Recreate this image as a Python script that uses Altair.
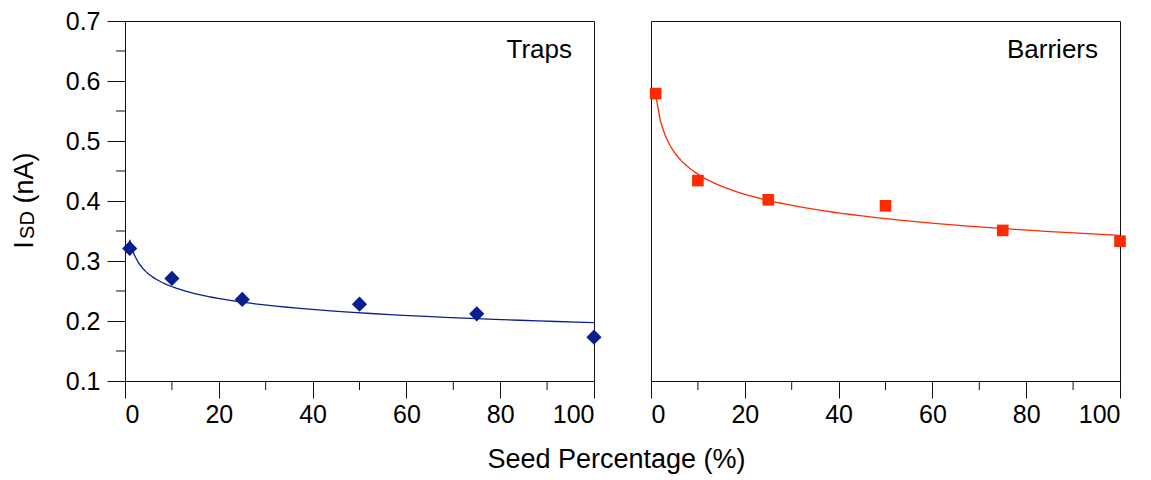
import altair as alt
import pandas as pd

# ---- data ----
seed_pct = [1, 10, 25, 50, 75, 100]
traps_isd = [0.321, 0.271, 0.236, 0.228, 0.212, 0.173]
barriers_isd = [0.579, 0.434, 0.402, 0.392, 0.351, 0.333]
x_major = [0, 20, 40, 60, 80, 100]
x_minor = [10, 30, 50, 70, 90]
y_major = [0.1, 0.2, 0.3, 0.4, 0.5, 0.6, 0.7]
y_minor = [0.15, 0.25, 0.35, 0.45, 0.55, 0.65]

FONT = "Liberation Sans"
W, H = 469, 360
NAVY = "#0a1e8c"
RED = "#ff2a00"
INK = "#111111"

xs = alt.Scale(domain=[0, 100], nice=False, zero=False)
ys = alt.Scale(domain=[0.1, 0.7], nice=False, zero=False)


def panel(values, color, shape, size, label, left):
    df = pd.DataFrame({"x": seed_pct, "y": values})
    if left:
        xaxis = alt.Axis(values=x_major, tickSize=17, labelPadding=4, grid=False,
                         labelFont=FONT, labelFontSize=25, labelColor="black",
                         tickColor=INK, domainColor=INK,
                         title="Seed Percentage (%)", titleFont=FONT, titleFontSize=27,
                         titleFontWeight="normal", titleColor="black",
                         titleX=491, titleY=86, titleAlign="center",
                         titleBaseline="alphabetic")
        yaxis = alt.Axis(values=y_major, tickSize=18, labelPadding=7, grid=False,
                         labelFont=FONT, labelFontSize=25, labelColor="black",
                         tickColor=INK, domainColor=INK, format=".1f", title=None)
    else:
        xaxis = alt.Axis(values=x_major, tickSize=17, labelPadding=4, grid=False,
                         labelFont=FONT, labelFontSize=25, labelColor="black",
                         tickColor=INK, domainColor=INK, title=None)
        yaxis = None

    base = alt.Chart(df)
    line = base.mark_line(color=color, strokeWidth=1.3).transform_regression(
        "x", "y", method="pow", extent=[1, 100]
    ).encode(
        x=alt.X("x:Q", scale=xs, axis=xaxis),
        y=alt.Y("y:Q", scale=ys, axis=yaxis),
    )
    pts = base.mark_point(shape=shape, filled=True, size=size, opacity=1, color=color).encode(
        x=alt.X("x:Q", scale=xs, axis=xaxis),
        y=alt.Y("y:Q", scale=ys, axis=yaxis),
    )
    xmin = alt.Chart(pd.DataFrame({"x": x_minor})).mark_rule(color=INK, strokeWidth=1).encode(
        x=alt.X("x:Q", scale=xs, axis=xaxis),
        y=alt.value(H), y2=alt.value(H + 9),
    )
    lab = alt.Chart(pd.DataFrame({"t": [label]})).mark_text(
        font=FONT, fontSize=26, align="right", baseline="alphabetic", color="black"
    ).encode(x=alt.value(W - 22), y=alt.value(37), text="t:N")
    layers = [line, pts, xmin, lab]
    if left:
        ymin = alt.Chart(pd.DataFrame({"y": y_minor})).mark_rule(color=INK, strokeWidth=1).encode(
            y=alt.Y("y:Q", scale=ys, axis=yaxis),
            x=alt.value(-9), x2=alt.value(0),
        )
        t1 = alt.Chart(pd.DataFrame({"t": ["I"]})).mark_text(
            font=FONT, fontSize=27, angle=270, align="center", baseline="alphabetic", color="black"
        ).encode(x=alt.value(-92), y=alt.value(224), text="t:N")
        t2 = alt.Chart(pd.DataFrame({"t": ["SD"]})).mark_text(
            font=FONT, fontSize=20, angle=270, align="center", baseline="alphabetic", color="black"
        ).encode(x=alt.value(-91), y=alt.value(204), text="t:N")
        t3 = alt.Chart(pd.DataFrame({"t": ["(nA)"]})).mark_text(
            font=FONT, fontSize=27, angle=270, align="center", baseline="alphabetic", color="black"
        ).encode(x=alt.value(-92), y=alt.value(157), text="t:N")
        layers += [ymin, t1, t2, t3]
    return alt.layer(*layers).properties(width=W, height=H)


left = panel(traps_isd, NAVY, "diamond", 230, "Traps", True)
right = panel(barriers_isd, RED, "square", 135, "Barriers", False)

chart = alt.hconcat(left, right, spacing=57, bounds="flush").properties(
    padding={"left": 2, "top": 0, "right": 5, "bottom": 5},
    background="white",
).configure_view(stroke=INK, strokeWidth=1)

chart.save("out.html", embed_options={"renderer": "svg", "actions": False})
